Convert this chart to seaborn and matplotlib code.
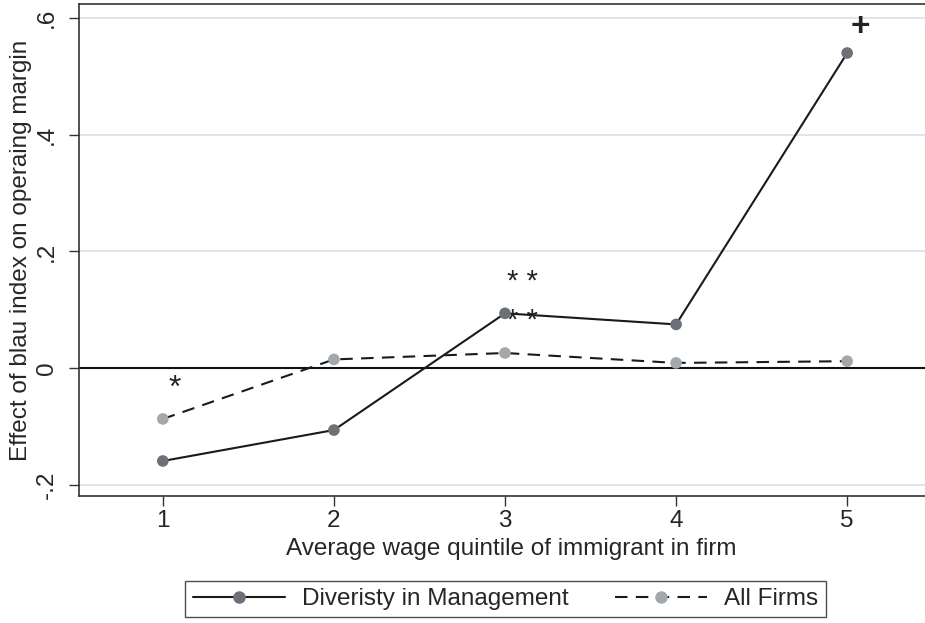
import matplotlib
matplotlib.use("Agg")
import matplotlib.pyplot as plt
import seaborn as sns
import pandas as pd
from matplotlib.lines import Line2D

quintiles = [1, 2, 3, 4, 5]
diversity_mgmt = [-0.159, -0.106, 0.094, 0.075, 0.540]
all_firms = [-0.087, 0.015, 0.026, 0.009, 0.012]
y_ticks = [-0.2, 0.0, 0.2, 0.4, 0.6]
y_tick_labels = ["-.2", "0", ".2", ".4", ".6"]
series_names = ["Diveristy in Management", "All Firms"]

sns.set_theme(style="white")
plt.rcParams["font.family"] = ["Liberation Sans", "DejaVu Sans"]

df = pd.DataFrame({
    "q": quintiles * 2,
    "effect": diversity_mgmt + all_firms,
    "series": [series_names[0]] * 5 + [series_names[1]] * 5,
})

fig = plt.figure(figsize=(9.25, 6.23), dpi=100)
ax = fig.add_axes([79 / 925, 1 - 496 / 623, 1 - 79 / 925, (496 - 4) / 623])

line_col = "#1a1a1a"
dark_pt = "#6b7176"
light_pt = "#a3a8ad"
fs = 17.5

for ytk in y_ticks:
    ax.axhline(ytk, color="#e1e5ea", lw=1.4, zorder=0)
ax.axhline(0, color="#111111", lw=1.5, zorder=1)

sns.lineplot(data=df[df.series == series_names[0]], x="q", y="effect", ax=ax,
             color=line_col, lw=1.5, legend=False, zorder=3)
sns.scatterplot(data=df[df.series == series_names[0]], x="q", y="effect", ax=ax,
                color=dark_pt, s=70, edgecolor="none", legend=False, zorder=4)
sns.lineplot(data=df[df.series == series_names[1]], x="q", y="effect", ax=ax,
             color=line_col, lw=1.5, legend=False, zorder=3)
ax.lines[-1].set_dashes([6, 4])
sns.scatterplot(data=df[df.series == series_names[1]], x="q", y="effect", ax=ax,
                color=light_pt, s=70, edgecolor="none", legend=False, zorder=4)

# significance markers
ax.text(1.07, -0.035, "*", fontsize=23, ha="center", va="center", color="#222222")
ax.text(3.1, 0.148, "* *", fontsize=21, ha="center", va="center", color="#222222")
ax.text(3.1, 0.080, "* *", fontsize=21, ha="center", va="center", color="#222222")
ax.text(5.08, 0.583, "+", fontsize=24, ha="center", va="center", color="#222222",
        fontweight="bold")

ax.set_xlim(0.51, 5.455)
ax.set_ylim(-0.219, 0.624)
ax.set_xticks(quintiles)
ax.set_xticklabels([str(q) for q in quintiles], fontsize=fs)
ax.set_yticks(y_ticks)
ax.set_yticklabels(y_tick_labels, fontsize=fs, rotation=90, va="center")
ax.tick_params(axis="x", direction="out", length=7, width=1, color="#333333",
               bottom=True, pad=3)
ax.tick_params(axis="y", direction="out", length=7, width=1, color="#333333",
               left=True, pad=8)
ax.set_xlabel("Average wage quintile of immigrant in firm", fontsize=fs, labelpad=3)
ax.xaxis.set_label_coords((511 - 79) / 846, -0.085)
ax.set_ylabel("Effect of blau index on operaing margin", fontsize=fs, labelpad=3)
for side in ["left", "bottom", "top"]:
    ax.spines[side].set_color("#333333")
    ax.spines[side].set_linewidth(1.2)
ax.spines["right"].set_visible(False)

handles = [
    Line2D([0], [0], color=line_col, lw=1.5, marker="o", markersize=8,
           markerfacecolor=dark_pt, markeredgecolor=dark_pt),
    Line2D([0], [0], color=line_col, lw=1.5, dashes=[6, 4], marker="o", markersize=8,
           markerfacecolor=light_pt, markeredgecolor=light_pt),
]
leg = fig.legend(handles, series_names, loc="center", bbox_to_anchor=(505.5 / 925, 1 - 599 / 623),
                 ncol=2, fontsize=fs, frameon=True, fancybox=False, handlelength=3.8,
                 columnspacing=1.9, handletextpad=0.7, borderpad=0.3, borderaxespad=0)
leg.get_frame().set_edgecolor("#222222")
leg.get_frame().set_linewidth(1.0)

fig.savefig("out.png", dpi=100)
